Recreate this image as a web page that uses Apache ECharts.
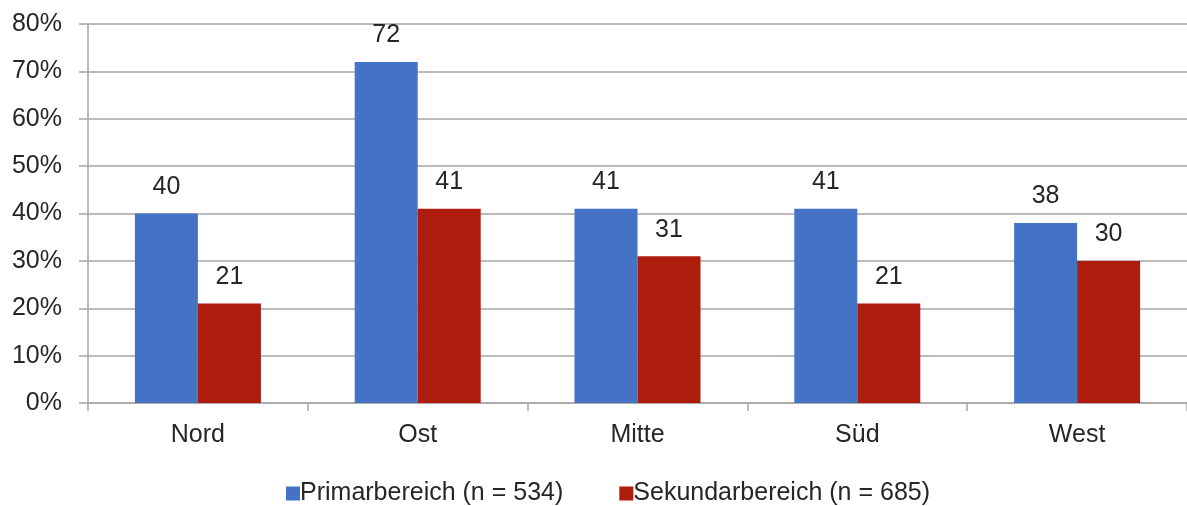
<!DOCTYPE html>
<html>
<head>
<meta charset="utf-8">
<script src="https://cdn.jsdelivr.net/npm/echarts@6/dist/echarts.min.js"></script>
<style>
  html, body { margin: 0; padding: 0; background: #fff; }
  #chart { width: 1187px; height: 506px; }
</style>
</head>
<body>
<div id="chart"></div>
<script>
const regions = ['Nord', 'Ost', 'Mitte', 'Süd', 'West']
const primar = [40, 72, 41, 41, 38]
const sekundar = [21, 41, 31, 21, 30]
const seriesNames = ['Primarbereich (n = 534)', 'Sekundarbereich (n = 685)']

const FONT = '"Liberation Sans", Arial, sans-serif'
const TEXT = '#262626'
const GRID_LINE = '#a6a6a6'

const chart = echarts.init(document.getElementById('chart'))

const labelStyle = {
  show: true,
  position: 'top',
  distance: 14,
  color: TEXT,
  fontFamily: FONT,
  fontSize: 25,
}

chart.setOption({
  animation: false,
  textStyle: { fontFamily: FONT },
  grid: { left: 88, right: 0, top: 24, bottom: 103 },
  legend: {
    left: 281,
    top: 476,
    itemWidth: 14,
    itemHeight: 14,
    itemGap: 56,
    icon: 'rect',
    textStyle: { color: TEXT, fontSize: 25, fontFamily: FONT, padding: [0, 0, 0, -5] },
    data: seriesNames,
  },
  xAxis: {
    type: 'category',
    data: regions,
    axisLine: { lineStyle: { color: GRID_LINE, width: 1.5 } },
    axisTick: { show: true, length: 8, lineStyle: { color: GRID_LINE, width: 1.5 } },
    axisLabel: { color: TEXT, fontSize: 25, margin: 20 },
  },
  yAxis: {
    type: 'value',
    min: 0,
    max: 80,
    interval: 10,
    axisLine: { show: true, lineStyle: { color: GRID_LINE, width: 1.5 } },
    axisTick: { show: true, length: 9, lineStyle: { color: GRID_LINE, width: 1.5 } },
    splitLine: { lineStyle: { color: GRID_LINE, width: 1.5 } },
    axisLabel: { color: TEXT, fontSize: 25, margin: 26, formatter: '{value}%' },
  },
  series: [
    {
      name: seriesNames[0],
      type: 'bar',
      data: primar,
      barWidth: 63,
      barGap: '0%',
      itemStyle: { color: '#4472c4' },
      label: labelStyle,
    },
    {
      name: seriesNames[1],
      type: 'bar',
      data: sekundar,
      barWidth: 63,
      barGap: '0%',
      itemStyle: { color: '#ae1c0e' },
      label: labelStyle,
    },
  ],
})
</script>
</body>
</html>
